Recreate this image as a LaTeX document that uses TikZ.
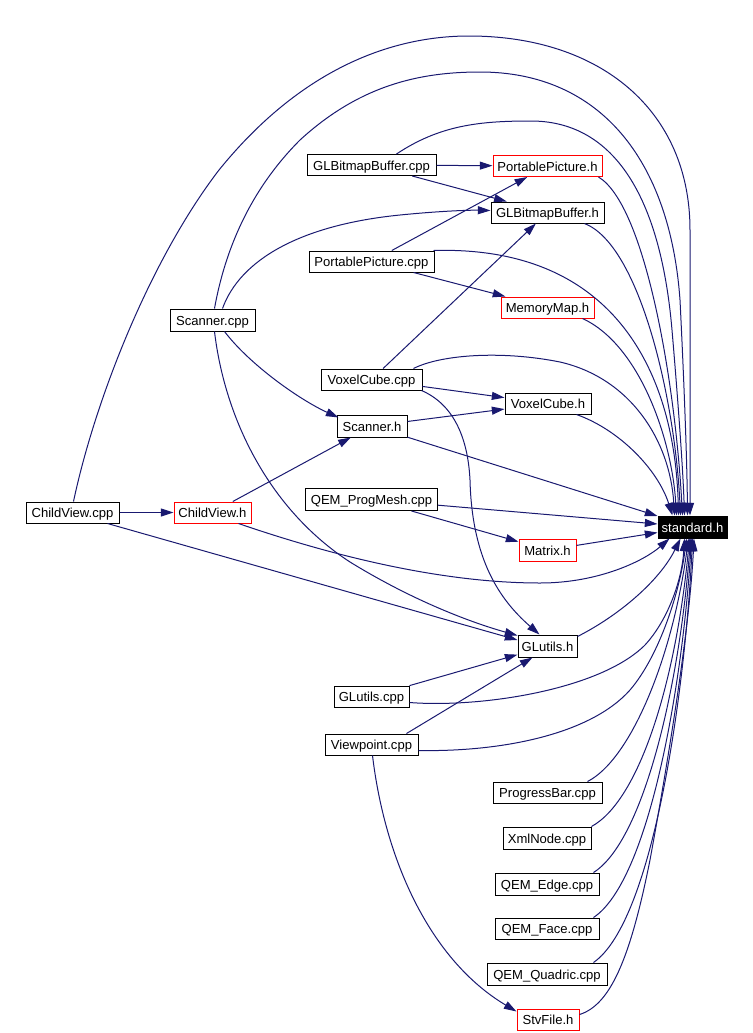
\documentclass[tikz,border=0pt]{standalone}
\usepackage{fontspec}
\setmainfont{Liberation Sans}
\usetikzlibrary{arrows.meta,calc}
\definecolor{edgeblue}{RGB}{25,25,112}
\tikzset{
  box/.style={draw=black, line width=0.75pt, inner sep=0pt, minimum height=21*0.75pt,
              font=\fontsize{9.8pt}{11pt}\selectfont, fill=white,
              text height=8.6pt, text depth=0.4pt},
  redbox/.style={box, draw=red},
  bw/.style={minimum width=#1*0.75pt},
  stdbox/.style={box, fill=black, text=white, minimum height=22*0.75pt},
  dep/.style={draw=edgeblue, line width=0.75pt, -{Triangle[length=9.5pt,width=6pt]}}
}
\begin{document}
\begin{tikzpicture}[x=0.75pt,y=-0.75pt]
\useasboundingbox (0,0) rectangle (753,1033);
% nodes
\node[stdbox, bw=69] (std) at (692.5,527) {standard.h};
\node[box, bw=93] (cvc) at (72.5,512.5) {ChildView.cpp};
\node[redbox, bw=77] (cvh) at (212.5,512.5) {ChildView.h};
\node[box, bw=85, minimum height=22*0.75pt] (scc) at (212.5,320) {Scanner.cpp};
\node[box, bw=129] (gbc) at (371.5,165) {GLBitmapBuffer.cpp};
\node[redbox, bw=109] (pph) at (547.5,166) {PortablePicture.h};
\node[box, bw=113] (gbh) at (547.5,212.5) {GLBitmapBuffer.h};
\node[box, bw=125] (ppc) at (371.5,261.5) {PortablePicture.cpp};
\node[redbox, bw=93] (mmh) at (547.5,307.5) {MemoryMap.h};
\node[box, bw=101] (vcc) at (371.5,379.5) {VoxelCube.cpp};
\node[box, bw=86] (vch) at (548,403.5) {VoxelCube.h};
\node[box, bw=70, minimum height=22*0.75pt] (sch) at (372,426) {Scanner.h};
\node[box, bw=132, minimum height=22*0.75pt] (qpm) at (371.5,499.5) {QEM\_ProgMesh.cpp};
\node[redbox, bw=57, minimum height=22*0.75pt] (mat) at (547.5,550) {Matrix.h};
\node[box, bw=59, minimum height=22*0.75pt] (glh) at (547.5,646) {GLutils.h};
\node[box, bw=75] (glc) at (371.5,696.5) {GLutils.cpp};
\node[box, bw=93] (vp) at (371.5,744.5) {Viewpoint.cpp};
\node[box, bw=109] (pb) at (547.5,792.5) {ProgressBar.cpp};
\node[box, bw=88, minimum height=22*0.75pt] (xml) at (547,838) {XmlNode.cpp};
\node[box, bw=104, minimum height=22*0.75pt] (qedge) at (547,884) {QEM\_Edge.cpp};
\node[box, bw=104] (qface) at (547,928.5) {QEM\_Face.cpp};
\node[box, bw=120, minimum height=22*0.75pt] (quad) at (547,974) {QEM\_Quadric.cpp};
\node[redbox, bw=62] (stv) at (548,1019.5) {StvFile.h};

% edges
\draw[dep] (cvc) -- (cvh);
\draw[dep] ($(cvc.south east)+(-12,0)$) -- ($(glh.west)+(0,-6)$);
\draw[dep] ($(cvc.north)+(1,0)$) .. controls (95,400) and (150,260) .. (219,170)
   .. controls (300,70) and (390,36) .. (469,36)
   .. controls (600,36) and (690,110) .. (690,230) -- ($(std.north)+(-2.5,0)$);
\draw[dep] (cvh) -- (sch);
\draw[dep] ($(cvh.south east)+(-13,0)$) .. controls (330,555) and (440,583) .. (540,583)
   .. controls (600,583) and (645,560) .. ($(std.south west)+(12,0)$);

\draw[dep] ($(scc.south)+(12,0)$) .. controls (250,365) and (300,400) .. ($(sch.north west)+(2,3)$);
\draw[dep] ($(scc.north)+(10,0)$) .. controls (240,260) and (300,225) .. (400,215)
   .. controls (440,211) and (470,210) .. ($(gbh.west)+(0,-2)$);
\draw[dep] ($(scc.south)+(2,0)$) .. controls (225,420) and (270,510) .. (350,562)
   .. controls (420,605) and (480,625) .. ($(glh.north west)+(0,1)$);
\draw[dep] ($(scc.north)+(2,0)$) .. controls (225,250) and (250,190) .. (300,140)
   .. controls (360,85) and (420,72) .. (480,72)
   .. controls (600,72) and (670,160) .. (680,300)
   .. controls (684,380) and (687,460) .. ($(std.north)+(-5,0)$);

\draw[dep] (gbc) -- (pph);
\draw[dep] (gbc) -- (gbh);
\draw[dep] ($(gbc.north)+(25,0)$) .. controls (440,125) and (480,121) .. (531,121)
   .. controls (610,121) and (660,190) .. (672,330)
   .. controls (678,400) and (683,470) .. ($(std.north)+(-8,0)$);
\draw[dep] ($(pph.south east)+(-4,0)$) .. controls (645,205) and (675,380) .. ($(std.north)+(-10,0)$);
\draw[dep] ($(gbh.south east)+(-20,0)$) .. controls (640,245) and (675,400) .. ($(std.north)+(-12,0)$);

\draw[dep] (ppc) -- (pph);
\draw[dep] (ppc) -- (mmh);
\draw[dep] ($(ppc.north east)+(-1,0)$) .. controls (620,245) and (675,380) .. ($(std.north)+(-14,0)$);
\draw[dep] ($(mmh.south east)+(-12,0)$) .. controls (640,345) and (672,440) .. ($(std.north)+(-16,0)$);

\draw[dep] (vcc) -- (gbh);
\draw[dep] (vcc) -- (vch);
\draw[dep] ($(vcc.south east)+(-1,0)$) .. controls (455,405) and (468,440) .. (470,480)
   .. controls (472,560) and (500,600) .. ($(glh.north)+(-8,0)$);
\draw[dep] ($(vcc.north)+(42,0)$) .. controls (440,355) and (500,350) .. (560,362)
   .. controls (630,378) and (670,440) .. ($(std.north)+(-18,0)$);
\draw[dep] ($(vch.south east)+(-15,0)$) .. controls (620,430) and (658,470) .. ($(std.north)+(-20,0)$);

\draw[dep] (sch) -- (vch);
\draw[dep] (sch) -- (std);
\draw[dep] (qpm) -- (std);
\draw[dep] (qpm) -- (mat);
\draw[dep] (mat) -- (std);

\draw[dep] ($(glh.north east)+(0,2)$) .. controls (620,615) and (660,580) .. ($(std.south)+(-12,0)$);
\draw[dep] (glc) -- (glh);
\draw[dep] ($(glc.east)+(0,6)$) .. controls (480,708) and (600,690) .. (645,645)
   .. controls (668,620) and (682,580) .. ($(std.south)+(-8,0)$);
\draw[dep] ($(vp.north)+(35,0)$) -- ($(glh.south)+(-15,0)$);
\draw[dep] ($(vp.east)+(0,6)$) .. controls (500,752) and (590,735) .. (630,690)
   .. controls (660,655) and (680,590) .. ($(std.south)+(-6,0)$);
\draw[dep] ($(vp.south)+(1,0)$) .. controls (385,860) and (430,960) .. ($(stv.north west)+(0,3)$);

\draw[dep] ($(pb.north east)+(-15,0)$) .. controls (630,760) and (672,660) .. ($(std.south)+(-4,0)$);
\draw[dep] (xml.north east) .. controls (640,800) and (676,680) .. ($(std.south)+(-3,0)$);
\draw[dep] ($(qedge.north east)+(-6,0)$) .. controls (645,840) and (680,680) .. ($(std.south)+(-2,0)$);
\draw[dep] ($(qface.north east)+(-6,0)$) .. controls (650,880) and (683,680) .. ($(std.south)+(-1,0)$);
\draw[dep] ($(quad.north east)+(-14,0)$) .. controls (655,920) and (686,680) .. ($(std.south)+(0,0)$);
\draw[dep] ($(stv.east)+(0,-5)$) .. controls (610,1005) and (630,960) .. (650,860)
   .. controls (672,740) and (690,620) .. ($(std.south)+(1.5,0)$);
\end{tikzpicture}
\end{document}
